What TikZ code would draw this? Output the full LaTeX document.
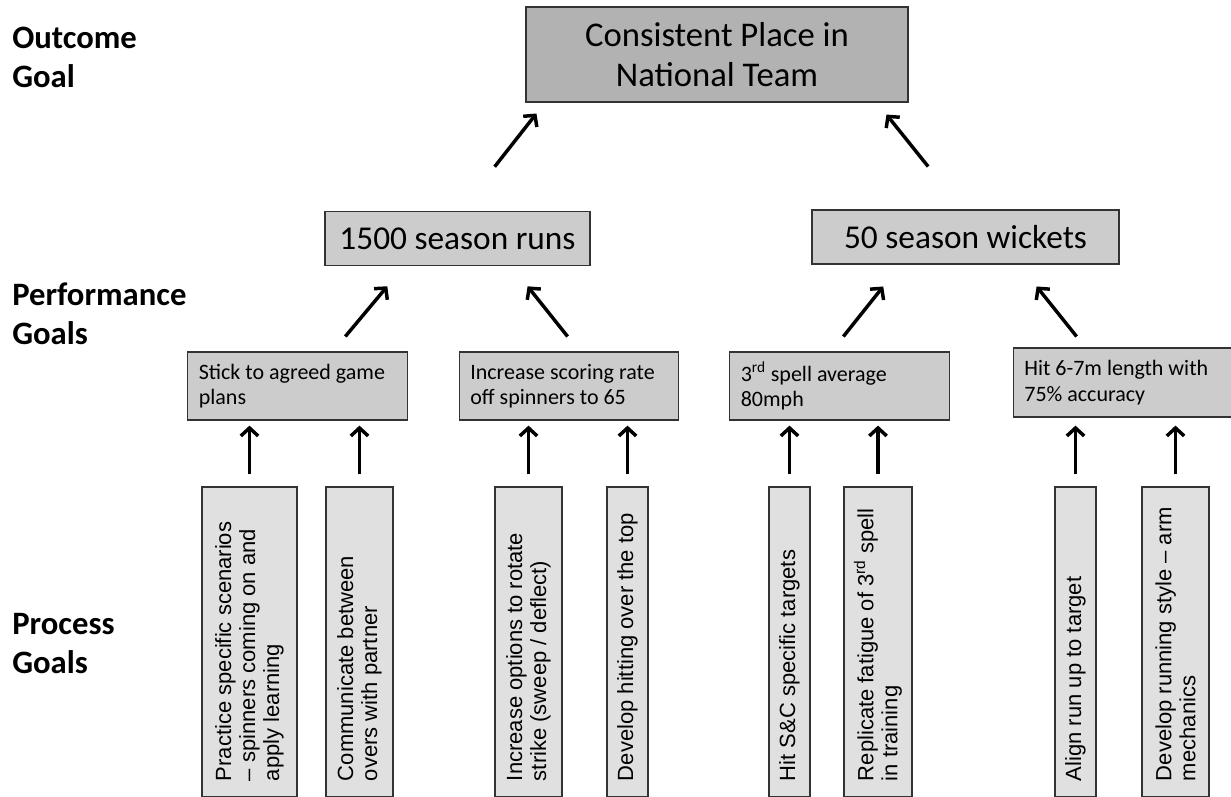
\documentclass[tikz,border=0pt]{standalone}
\usepackage{fontspec}
\setmainfont{Carlito}
\newfontfamily\arialfont{Liberation Sans}
\usetikzlibrary{arrows.meta,calc,positioning}
\tikzset{
  goalbox/.style = {draw=black!80, line width=0.9pt, fill=black!30, align=flush center,
                    minimum width=286.5pt, minimum height=71.25pt,
                    font=\fontsize{26}{30}\selectfont},
  perfbox/.style = {draw=black!80, line width=0.9pt, fill=black!20,
                    minimum height=41pt, font=\fontsize{25}{30}\selectfont},
  subbox/.style  = {draw=black!80, line width=0.9pt, fill=black!20, align=flush left,
                    text width=148pt, inner xsep=8.25pt, minimum height=51pt,
                    font=\fontsize{16.5}{19}\selectfont},
  procbox/.style = {draw=black!80, line width=0.9pt, fill=black!12, align=flush left,
                    rotate=90, text width=208.5pt, inner xsep=12pt, inner ysep=2pt,
                    minimum width=232.5pt, font=\arialfont\fontsize{16.5}{18}\selectfont},
  lab/.style     = {align=flush left, inner sep=0pt, anchor=base west,
                    font=\bfseries\fontsize{24.5}{29}\selectfont},
  arr/.style     = {-{Straight Barb[length=6pt,width=13pt]}, line width=2.6pt},
}
\begin{document}
\begin{tikzpicture}[x=0.75pt,y=-0.75pt]
  \useasboundingbox (0,0) rectangle (1231,796);
  \clip (0,0) rectangle (1231,796);
  % level labels (base = last line)
  \node[lab] (outlab)  at (12,87)  {Outcome\\Goal};
  \node[lab] (perflab) at (12,344) {Performance\\Goals};
  \node[lab] (proclab) at (12,673) {Process\\Goals};
  % outcome and performance goals
  \node[goalbox] (goal) at (717,54.5) {Consistent Place in\\National Team};
  \node[perfbox, minimum width=198.75pt] (runs) at (457.5,238.5) {1500 season runs};
  \node[perfbox, minimum width=230.25pt, minimum height=40.5pt] (wkts) at (965.5,237) {50 season wickets};
  \node[subbox] (sub1) at (297.5,386) {Stick to agreed game\\plans};
  \node[subbox] (sub2) at (569,386) {Increase scoring rate\\off spinners to 65};
  \node[subbox] (sub3) at (839.5,386) {3\textsuperscript{rd} spell average\\80mph};
  \node[subbox, minimum height=51.75pt] (sub4) at (1123,382.5) {Hit 6-7m length with\\75\% accuracy};
  % process goals
  \node[procbox, minimum height=71.25pt] (proc1) at (249.5,642) {Practice specific scenarios\\– spinners coming on and\\apply learning};
  \node[procbox, minimum height=50.25pt] (proc2) at (359.5,642) {Communicate between\\overs with partner};
  \node[procbox, minimum height=50.25pt] (proc3) at (528.5,642) {Increase options to rotate\\strike (sweep / deflect)};
  \node[procbox, minimum height=30.75pt] (proc4) at (627.5,642) {Develop hitting over the top};
  \node[procbox, minimum height=30.75pt] (proc5) at (789.5,642) {Hit S\&C specific targets};
  \node[procbox, minimum height=51pt] (proc6) at (878,642) {Replicate fatigue of 3\textsuperscript{rd} spell\\in training};
  \node[procbox, minimum height=30.75pt] (proc7) at (1075.5,642) {Align run up to target};
  \node[procbox, minimum height=50.25pt] (proc8) at (1175.5,642) {Develop running style – arm\\mechanics};
  % arrows
  \draw[arr, shorten <=41.8pt, shorten >=10.4pt] ($(runs.north west)+(135.8,0)$) -- ($(goal.south west)+(19.6,0)$);
  \draw[arr, shorten <=41.2pt, shorten >=11.5pt] ($(wkts.north west)+(151.1,0)$) -- ($(goal.south west)+(351.5,0)$);
  \draw[arr, shorten <=14.6pt, shorten >=19.4pt] ($(sub1.north west)+(145.6,0)$) -- ($(runs.south west)+(79.5,0)$);
  \draw[arr, shorten <=14.3pt, shorten >=19.1pt] ($(sub2.north west)+(120.8,0)$) -- ($(runs.south west)+(187.3,0)$);
  \draw[arr, shorten <=14.3pt, shorten >=21pt] ($(sub3.north west)+(102.2,0)$) -- ($(wkts.south west)+(89.3,0)$);
  \draw[arr, shorten <=10.5pt, shorten >=21pt] ($(sub4.north west)+(72.6,0)$) -- ($(wkts.south west)+(207.7,0)$);
  \foreach \p/\s in {1/1,2/1,3/2,4/2,5/3,6/3}
    \draw[arr, shorten <=9pt, shorten >=3.75pt] (proc\p.east) -- (proc\p.east |- sub\s.south);
  \foreach \p in {7,8}
    \draw[arr, shorten <=9pt, shorten >=6pt] (proc\p.east) -- (proc\p.east |- sub4.south);
\end{tikzpicture}
\end{document}
